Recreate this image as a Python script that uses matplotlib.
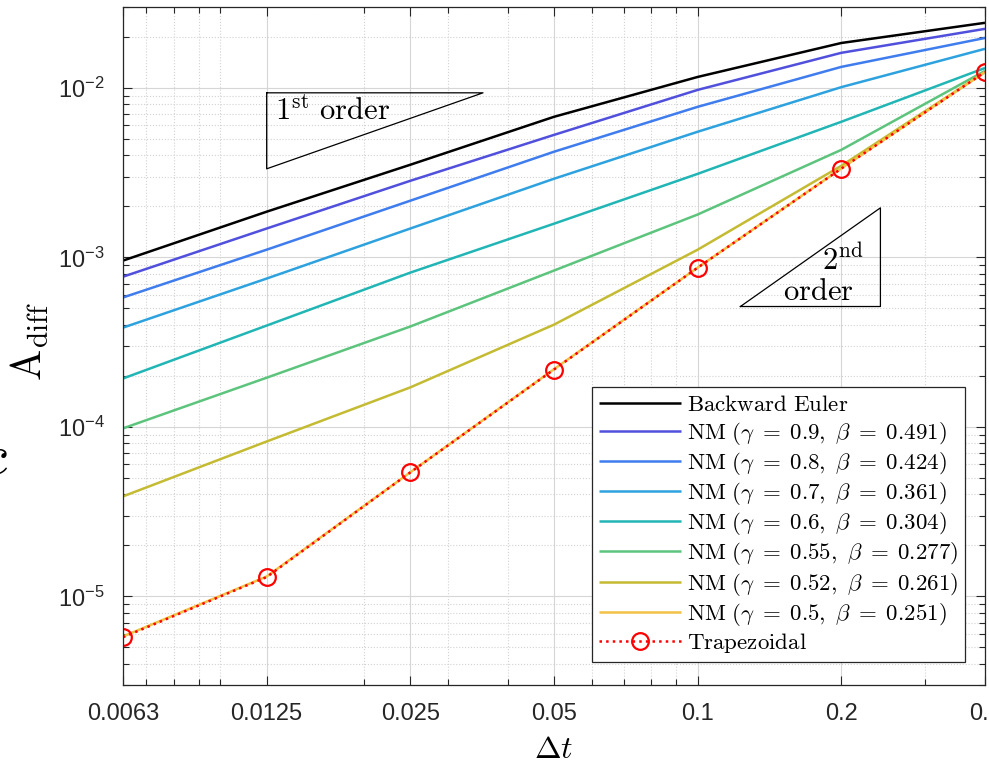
import numpy as np
import matplotlib
matplotlib.use("Agg")
import matplotlib.pyplot as plt
from matplotlib.font_manager import FontProperties
from matplotlib.ticker import LogLocator, FixedLocator, FixedFormatter, NullFormatter

plt.rcParams['font.family'] = ['Liberation Sans', 'DejaVu Sans']
plt.rcParams['mathtext.fontset'] = 'custom'
plt.rcParams['mathtext.rm'] = 'Liberation Sans'
plt.rcParams['mathtext.it'] = 'Liberation Sans:italic'
plt.rcParams['mathtext.bf'] = 'Liberation Sans:bold'

# ---------------- data ----------------
dt = [0.00625, 0.0125, 0.025, 0.05, 0.1, 0.2, 0.4]
dt_labels = ['0.0063', '0.0125', '0.025', '0.05', '0.1', '0.2', '0.4']

backward_euler = [9.57e-4, 1.86e-3, 3.52e-3, 6.75e-3, 1.16e-2, 1.84e-2, 2.42e-2]
nm_090 = [7.69e-4, 1.48e-3, 2.83e-3, 5.28e-3, 9.73e-3, 1.61e-2, 2.23e-2]
nm_080 = [5.80e-4, 1.11e-3, 2.16e-3, 4.20e-3, 7.73e-3, 1.33e-2, 1.97e-2]
nm_070 = [3.85e-4, 7.50e-4, 1.48e-3, 2.91e-3, 5.51e-3, 1.01e-2, 1.70e-2]
nm_060 = [1.93e-4, 3.96e-4, 8.13e-4, 1.58e-3, 3.11e-3, 6.31e-3, 1.31e-2]
nm_055 = [9.8e-5, 1.95e-4, 3.91e-4, 8.36e-4, 1.79e-3, 4.31e-3, 1.26e-2]
nm_052 = [3.89e-5, 8.2e-5, 1.71e-4, 4.01e-4, 1.11e-3, 3.47e-3, 1.24e-2]
nm_050 = [5.8e-6, 1.31e-5, 5.4e-5, 2.19e-4, 8.7e-4, 3.35e-3, 1.24e-2]
trapezoidal = [5.74e-6, 1.30e-5, 5.39e-5, 2.18e-4, 8.69e-4, 3.34e-3, 1.24e-2]

labels = [
    r'$\mathrm{Backward\ Euler}$',
    r'$\mathrm{NM}\ (\gamma\;=\;0.9,\ \beta\;=\;0.491)$',
    r'$\mathrm{NM}\ (\gamma\;=\;0.8,\ \beta\;=\;0.424)$',
    r'$\mathrm{NM}\ (\gamma\;=\;0.7,\ \beta\;=\;0.361)$',
    r'$\mathrm{NM}\ (\gamma\;=\;0.6,\ \beta\;=\;0.304)$',
    r'$\mathrm{NM}\ (\gamma\;=\;0.55,\ \beta\;=\;0.277)$',
    r'$\mathrm{NM}\ (\gamma\;=\;0.52,\ \beta\;=\;0.261)$',
    r'$\mathrm{NM}\ (\gamma\;=\;0.5,\ \beta\;=\;0.251)$',
    r'$\mathrm{Trapezoidal}$',
]
colors = ['#000000', '#5050dc', '#3f7cee', '#2ea2de', '#22b5b5',
          '#5cc47c', '#c4bb32', '#f3c145']

# slope triangles (data coordinates of vertices)
tri1_x = [0.0125, 0.0355, 0.0125, 0.0125]
tri1_y = [9.35e-3, 9.35e-3, 3.33e-3, 9.35e-3]
tri2_x = [0.1229, 0.2415, 0.2415, 0.1229]
tri2_y = [5.13e-4, 1.96e-3, 5.13e-4, 5.13e-4]

# ---------------- figure ----------------
W, H = 989, 769
fig = plt.figure(figsize=(W / 100, H / 100), dpi=100)
ax = fig.add_axes([123 / W, 1 - 685 / H, 862 / W, 678 / H])

series = [backward_euler, nm_090, nm_080, nm_070, nm_060, nm_055, nm_052, nm_050]
for vals, c, lab in zip(series, colors, labels[:8]):
    ax.plot(dt, vals, color=c, lw=1.8, label=lab, solid_capstyle='butt')
ax.plot(dt, trapezoidal, color='#ff0000', lw=1.8, ls=':', marker='o',
        markersize=12, markerfacecolor='none', markeredgecolor='#ff0000',
        markeredgewidth=1.6, label=labels[8])

ax.set_xscale('log')
ax.set_yscale('log')
ax.set_xlim(dt[0], dt[-1])
ax.set_ylim(3.0e-6, 3.0e-2)

ax.xaxis.set_major_locator(FixedLocator(dt))
ax.xaxis.set_major_formatter(FixedFormatter(dt_labels))
ax.xaxis.set_minor_locator(LogLocator(base=10, subs=np.arange(1, 10), numticks=100))
ax.xaxis.set_minor_formatter(NullFormatter())
ax.yaxis.set_major_locator(LogLocator(base=10, numticks=20))
ax.yaxis.set_minor_locator(LogLocator(base=10, subs=np.arange(2, 10), numticks=100))
ax.yaxis.set_minor_formatter(NullFormatter())

ax.tick_params(which='both', direction='in', top=True, right=True,
               color='#262626', width=0.8)
ax.tick_params(which='major', length=6.5, labelsize=17, labelcolor='#262626', pad=13)
ax.tick_params(which='minor', length=4)
for s in ax.spines.values():
    s.set_color('#262626')
    s.set_linewidth(0.9)

ax.grid(which='major', color='#d6d6d6', lw=0.8, ls='-')
ax.grid(which='minor', color='#d2d2d2', lw=0.8, ls=':')
ax.set_axisbelow(True)

# triangles and annotations
ax.plot(tri1_x, tri1_y, color='black', lw=0.9)
ax.plot(tri2_x, tri2_y, color='black', lw=0.9)
cm_big = FontProperties(size=22, math_fontfamily='cm')
ax.text(0.176, 0.833, r'$1^{\mathrm{st}}\ \mathrm{order}$', transform=ax.transAxes,
        fontproperties=cm_big, ha='left', va='baseline')
ax.text(0.811, 0.612, r'$2^{\mathrm{nd}}$', transform=ax.transAxes,
        fontproperties=cm_big, ha='left', va='baseline')
ax.text(0.766, 0.568, r'$\mathrm{order}$', transform=ax.transAxes,
        fontproperties=cm_big, ha='left', va='baseline')

# legend
leg = ax.legend(loc='lower right', bbox_to_anchor=(0.977, 0.034), borderaxespad=0,
                prop=FontProperties(size=16.5, math_fontfamily='cm'),
                handlelength=3.6, handletextpad=0.25, labelspacing=0.14,
                borderpad=0.3, fancybox=False, framealpha=1, edgecolor='#262626')
leg.get_frame().set_linewidth(0.9)

# axis labels
fig.text(30 / W, 1 - 342 / H, r'$\mathrm{A}_{\mathrm{diff}}$', rotation=90,
         ha='center', va='center', fontproperties=FontProperties(size=30, math_fontfamily='cm'))
fig.text(554 / W, 1 - 750 / H, r'$\Delta t$', ha='center', va='center',
         fontproperties=FontProperties(size=23, math_fontfamily='cm'))
fig.text(8 / W, 1 - 460 / H, r'$c$', ha='right', va='center',
         fontproperties=FontProperties(size=40, math_fontfamily='cm'))

fig.savefig('out.png', dpi=100)
